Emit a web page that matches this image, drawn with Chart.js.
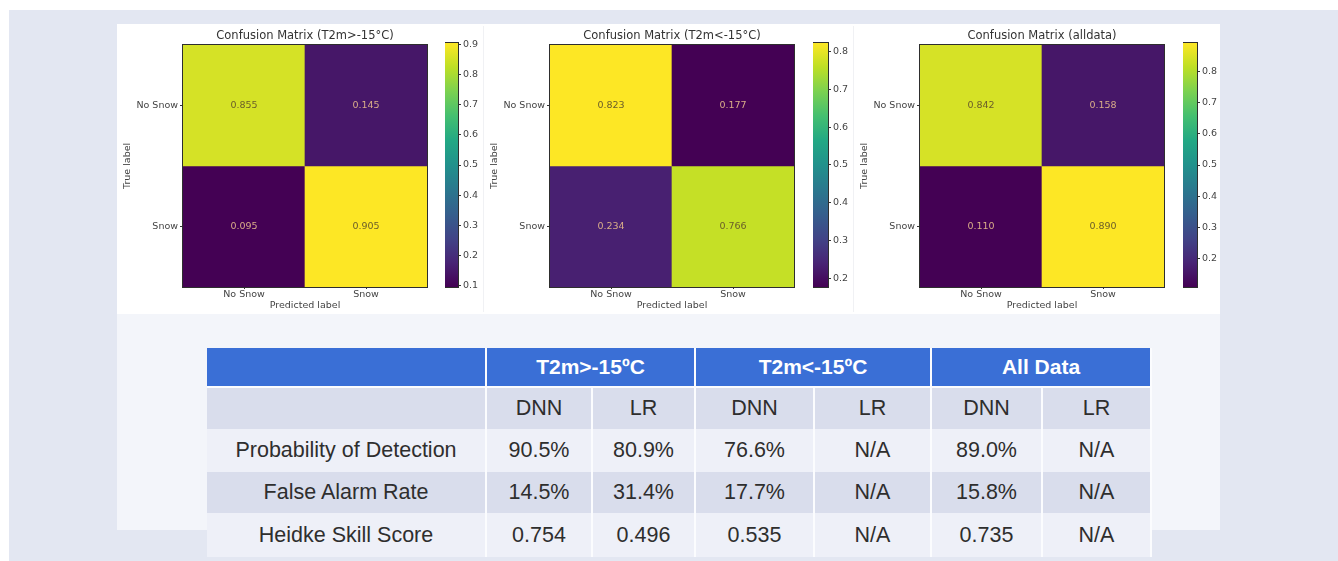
<!DOCTYPE html>
<html>
<head>
<meta charset="utf-8">
<script src="https://cdn.jsdelivr.net/npm/chart.js@4.4.0/dist/chart.umd.min.js"></script>
<style>
  body { margin: 0; width: 1338px; height: 561px; background: #fff; position: relative; overflow: hidden; font-family: "Liberation Sans", Arial, sans-serif; }
  .abs { position: absolute; }
  #bg { left: 9px; top: 10px; width: 1329px; height: 551px; background: #e3e7f2; }
  #panel { left: 117px; top: 24px; width: 1103px; height: 290px; background: #fff; }
  #lower { left: 117px; top: 314px; width: 1103px; height: 216px; background: #f3f5fa; }
  .sep { top: 26px; width: 1px; height: 286px; background: #f0f1f4; }
  .cell { position: absolute; display: flex; align-items: center; justify-content: center; font-size: 21.5px; color: #2e2e2e; }
  .head { background: #3a6fd6; color: #fff; font-weight: bold; font-size: 21px; }
  .sub { background: #d9ddec; }
  .light { background: #eef0f8; }
  .dark { background: #d9ddec; }
</style>
</head>
<body>
<div id="bg" class="abs"></div>
<div id="panel" class="abs"></div>
<div id="lower" class="abs"></div>
<div class="abs sep" style="left:483px"></div>
<div class="abs sep" style="left:853px"></div>
<div id="table" class="abs" style="left:207px;top:348px;width:945px;height:209px;background:#fbfcfe"></div>

<script>
// DATA
const predictedLabels = ['No Snow', 'Snow'];
const trueLabels = ['No Snow', 'Snow'];
const titles = ['Confusion Matrix (T2m>-15°C)', 'Confusion Matrix (T2m<-15°C)', 'Confusion Matrix (alldata)'];
const warmMatrix = [[0.855, 0.145], [0.095, 0.905]];
const coldMatrix = [[0.823, 0.177], [0.234, 0.766]];
const allMatrix = [[0.842, 0.158], [0.110, 0.890]];
const warmTicks = [0.1, 0.2, 0.3, 0.4, 0.5, 0.6, 0.7, 0.8, 0.9];
const coldTicks = [0.2, 0.3, 0.4, 0.5, 0.6, 0.7, 0.8];
const allTicks = [0.2, 0.3, 0.4, 0.5, 0.6, 0.7, 0.8];

const groups = ['T2m>-15ºC', 'T2m<-15ºC', 'All Data'];
const models = ['DNN', 'LR'];
const metrics = ['Probability of Detection', 'False Alarm Rate', 'Heidke Skill Score'];
const scores = [
    ['90.5%', '80.9%', '76.6%', 'N/A', '89.0%', 'N/A'],
    ['14.5%', '31.4%', '17.7%', 'N/A', '15.8%', 'N/A'],
    ['0.754', '0.496', '0.535', 'N/A', '0.735', 'N/A']
];

// viridis stops
const viridis = ['#440154', '#482475', '#414487', '#355f8d', '#2a788e', '#21918c',
    '#22a884', '#44bf70', '#7ad151', '#bddf26', '#fde725'];

function hexRgb(h) {
    return [parseInt(h.slice(1, 3), 16), parseInt(h.slice(3, 5), 16), parseInt(h.slice(5, 7), 16)];
}
function viridisAt(t) {
    t = Math.max(0, Math.min(1, t));
    const p = t * (viridis.length - 1);
    const i = Math.min(Math.floor(p), viridis.length - 2);
    const f = p - i;
    const a = hexRgb(viridis[i]), b = hexRgb(viridis[i + 1]);
    return 'rgb(' + a.map((v, k) => Math.round(v + (b[k] - v) * f)).join(',') + ')';
}

Chart.defaults.font.family = '"DejaVu Sans", sans-serif';
Chart.defaults.color = '#444';

const tickFont = { size: 9.5 };

const frame = {
    id: 'frame',
    afterDatasetsDraw(chart) {
        const a = chart.chartArea;
        const c = chart.ctx;
        c.save();
        c.strokeStyle = '#2e2e2e';
        c.lineWidth = 1;
        c.strokeRect(Math.round(a.left) - 0.5, Math.round(a.top) - 0.5,
            Math.round(a.right - a.left) + 1, Math.round(a.bottom - a.top) + 1);
        c.restore();
    }
};

const cellText = {
    id: 'cellText',
    afterDatasetsDraw(chart) {
        const c = chart.ctx;
        c.save();
        c.font = '9.5px "DejaVu Sans"';
        c.textAlign = 'center';
        c.textBaseline = 'middle';
        chart.data.datasets.forEach((ds, di) => {
            chart.getDatasetMeta(di).data.forEach((bar, j) => {
                const v = ds.values[j];
                c.fillStyle = v < ds.mid ? '#d9ad88' : '#6b5e2a';
                c.fillText(v.toFixed(3), bar.x, (bar.y + bar.base) / 2);
            });
        });
        c.restore();
    }
};

function addCanvas(left, top, w, h) {
    const cv = document.createElement('canvas');
    cv.width = w;
    cv.height = h;
    cv.className = 'abs';
    cv.style.left = left + 'px';
    cv.style.top = top + 'px';
    document.body.appendChild(cv);
    return cv;
}

function drawMatrix(left, matrix, title) {
    const flat = matrix.flat();
    const lo = Math.min(...flat), hi = Math.max(...flat);
    const n = trueLabels.length;
    new Chart(addCanvas(left, 24, 320, 291), {
        type: 'bar',
        data: {
            labels: predictedLabels,
            datasets: trueLabels.map((row, r) => ({
                label: row,
                data: predictedLabels.map(() => [n - 1 - r, n - r]),
                values: matrix[r],
                mid: (lo + hi) / 2,
                backgroundColor: matrix[r].map(v => viridisAt((v - lo) / (hi - lo))),
                borderWidth: 0,
                barPercentage: 1,
                categoryPercentage: 1,
                grouped: false
            }))
        },
        options: {
            responsive: false,
            animation: false,
            layout: { padding: { left: 0, right: 10, top: 0, bottom: 0 } },
            plugins: {
                legend: { display: false },
                tooltip: { enabled: false },
                title: {
                    display: true, text: title, fullSize: false,
                    font: { size: 11.5, weight: 'normal' }, color: '#333',
                    padding: { top: 5, bottom: 2 }
                }
            },
            scales: {
                x: {
                    type: 'category',
                    offset: true,
                    afterFit: s => { s.height = 28; },
                    grid: { offset: false, drawOnChartArea: false, tickLength: 2, color: '#333' },
                    border: { display: false },
                    ticks: { font: tickFont, padding: 0 },
                    title: { display: true, text: 'Predicted label', font: tickFont, padding: { top: 0, bottom: 4 } }
                },
                y: {
                    min: 0,
                    max: n,
                    afterBuildTicks: s => { s.ticks = trueLabels.map((_, r) => ({ value: n - r - 0.5 })); },
                    afterFit: s => { s.width = 66; },
                    grid: { drawOnChartArea: false, tickLength: 3, color: '#333' },
                    border: { display: false },
                    ticks: { font: tickFont, padding: 2, callback: v => trueLabels[n - 1 - Math.floor(v)] },
                    title: { display: true, text: 'True label', font: tickFont, padding: { top: 5, bottom: 0 } }
                }
            }
        },
        plugins: [frame, cellText]
    });
}

function drawColorbar(left, w, matrix, ticks) {
    const flat = matrix.flat();
    const lo = Math.min(...flat), hi = Math.max(...flat);
    new Chart(addCanvas(left, 33, w + 28, 264), {
        type: 'bar',
        data: {
            labels: [''],
            datasets: [{
                data: [[lo, hi]],
                borderWidth: 0,
                barPercentage: 1,
                categoryPercentage: 1,
                backgroundColor: ctx => {
                    const ys = ctx.chart.scales.y;
                    if (!ys) return viridisAt(0.5);
                    const y0 = ys.getPixelForValue(lo), y1 = ys.getPixelForValue(hi);
                    if (!isFinite(y0) || !isFinite(y1) || y0 === y1) return viridisAt(0.5);
                    const g = ctx.chart.ctx.createLinearGradient(0, y0, 0, y1);
                    viridis.forEach((c, i) => g.addColorStop(i / (viridis.length - 1), c));
                    return g;
                }
            }]
        },
        options: {
            responsive: false,
            animation: false,
            layout: { padding: { left: 0, right: 0, top: 10, bottom: 10 } },
            plugins: { legend: { display: false }, tooltip: { enabled: false } },
            scales: {
                x: { display: false },
                y: {
                    position: 'right',
                    min: lo,
                    max: hi,
                    afterBuildTicks: s => { s.ticks = ticks.map(v => ({ value: v })); },
                    afterFit: s => { s.width = 28; },
                    grid: { drawOnChartArea: false, tickLength: 3, color: '#333' },
                    border: { display: false },
                    ticks: { font: tickFont, padding: 2, callback: v => v.toFixed(1) }
                }
            }
        },
        plugins: [frame]
    });
}

// CONFUSION MATRICES
drawMatrix(117, warmMatrix, titles[0]);
drawColorbar(445, 13, warmMatrix, warmTicks);
drawMatrix(484, coldMatrix, titles[1]);
drawColorbar(813, 15, coldMatrix, coldTicks);
drawMatrix(854, allMatrix, titles[2]);
drawColorbar(1183, 14, allMatrix, allTicks);

// TABLE
const table = document.getElementById('table');
const colEdges = [207, 487, 593, 696, 815, 932, 1043, 1152];
const rowEdges = [348, 388, 429, 472, 513, 557];

function cell(c0, c1, r, text, cls, gap) {
    const d = document.createElement('div');
    d.className = 'cell ' + cls;
    d.style.left = (colEdges[c0] - 207) + 'px';
    d.style.top = (rowEdges[r] - 348) + 'px';
    d.style.width = (colEdges[c1] - colEdges[c0] - 2) + 'px';
    d.style.height = (rowEdges[r + 1] - rowEdges[r] - gap) + 'px';
    d.textContent = text;
    table.appendChild(d);
}

cell(0, 1, 0, '', 'head', 2);
groups.forEach((g, i) => cell(1 + 2 * i, 3 + 2 * i, 0, g, 'head', 2));
cell(0, 1, 1, '', 'sub', 0);
groups.forEach((g, i) => models.forEach((m, k) => cell(1 + 2 * i + k, 2 + 2 * i + k, 1, m, 'sub', 0)));
metrics.forEach((m, r) => {
    const cls = r === 1 ? 'dark' : 'light';
    cell(0, 1, r + 2, m, cls, 0);
    scores[r].forEach((v, k) => cell(1 + k, 2 + k, r + 2, v, cls, 0));
});
</script>
</body>
</html>
